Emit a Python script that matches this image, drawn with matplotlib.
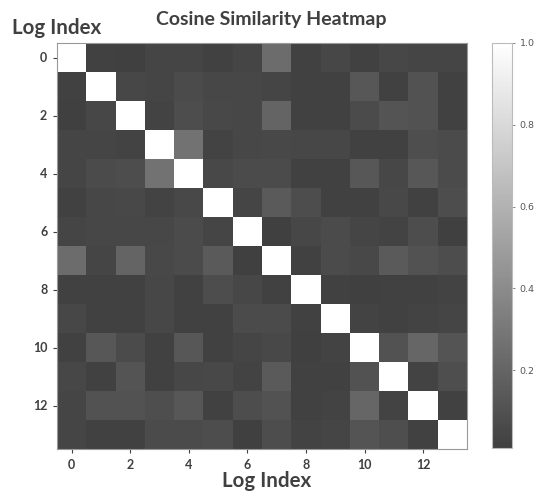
import matplotlib
matplotlib.use("Agg")

import numpy as np
import matplotlib.pyplot as plt
from matplotlib.colors import LinearSegmentedColormap

# ── Data: upper triangle of the cosine similarity matrix (row i, cols i+1..13) ──
upper_rows = [
    [0.02, 0.01, 0.04, 0.04, 0.02, 0.04, 0.24, 0.02, 0.05, 0.02, 0.05, 0.04, 0.04],
    [0.05, 0.04, 0.07, 0.05, 0.05, 0.04, 0.02, 0.02, 0.13, 0.02, 0.11, 0.02],
    [0.03, 0.08, 0.06, 0.05, 0.20, 0.02, 0.02, 0.07, 0.12, 0.11, 0.02],
    [0.27, 0.03, 0.05, 0.06, 0.05, 0.05, 0.02, 0.02, 0.09, 0.07],
    [0.06, 0.07, 0.07, 0.02, 0.02, 0.13, 0.05, 0.13, 0.07],
    [0.04, 0.15, 0.08, 0.02, 0.02, 0.06, 0.02, 0.08],
    [0.01, 0.05, 0.07, 0.04, 0.03, 0.08, 0.01],
    [0.02, 0.07, 0.06, 0.15, 0.11, 0.08],
    [0.02, 0.01, 0.02, 0.02, 0.03],
    [0.03, 0.02, 0.03, 0.04],
    [0.11, 0.21, 0.12],
    [0.03, 0.09],
    [0.02],
]
n_logs = 14
tick_idx = [0, 2, 4, 6, 8, 10, 12]
cbar_ticks = [0.2, 0.4, 0.6, 0.8, 1.0]

sim = np.eye(n_logs)
for i, row in enumerate(upper_rows):
    for k, v in enumerate(row):
        j = i + 1 + k
        sim[i, j] = v
        sim[j, i] = v

# ── Figure ───────────────────────────────────────────────────────────
plt.rcParams["font.family"] = ["Lato", "DejaVu Sans"]
W, H = 540, 493
fig = plt.figure(figsize=(W / 100, H / 100), dpi=100)
fig.patch.set_facecolor("white")

cmap = LinearSegmentedColormap.from_list("soft_gray", ["#404040", "#ffffff"])

ax = fig.add_axes([57 / W, 1 - 449 / H, 410 / W, 406 / H])
im = ax.imshow(sim, cmap=cmap, aspect="auto", interpolation="nearest")

ax.set_xticks(tick_idx)
ax.set_yticks(tick_idx)
ax.set_xticklabels([str(t) for t in tick_idx], fontsize=9, fontweight="bold", color="#404040")
ax.set_yticklabels([str(t) for t in tick_idx], fontsize=9, fontweight="bold", color="#404040")
ax.tick_params(length=3, width=0.8, color="#404040", pad=4)
for sp in ax.spines.values():
    sp.set_color("#999999")
    sp.set_linewidth(0.8)

# colorbar
cax = fig.add_axes([492 / W, 1 - 448 / H, 20 / W, 405 / H])
cb = fig.colorbar(im, cax=cax, ticks=cbar_ticks)
cb.ax.tick_params(labelsize=6.8, labelcolor="#555555", color="#777777", length=2, width=0.6)
for lbl in cb.ax.get_yticklabels():
    lbl.set_family("DejaVu Sans")
cb.outline.set_edgecolor("#bbbbbb")
cb.outline.set_linewidth(0.8)

# labels
fig.text(271 / W, 1 - 19 / H, "Cosine Similarity Heatmap", ha="center", va="center",
         fontsize=14, fontweight="bold", color="#404040")
fig.text(57 / W, 1 - 28 / H, "Log Index", ha="center", va="center",
         fontsize=14.8, fontweight="bold", color="#404040")
fig.text(267 / W, 1 - 481 / H, "Log Index", ha="center", va="center",
         fontsize=14.8, fontweight="bold", color="#404040")

fig.savefig("out.png", dpi=100, facecolor="white")
